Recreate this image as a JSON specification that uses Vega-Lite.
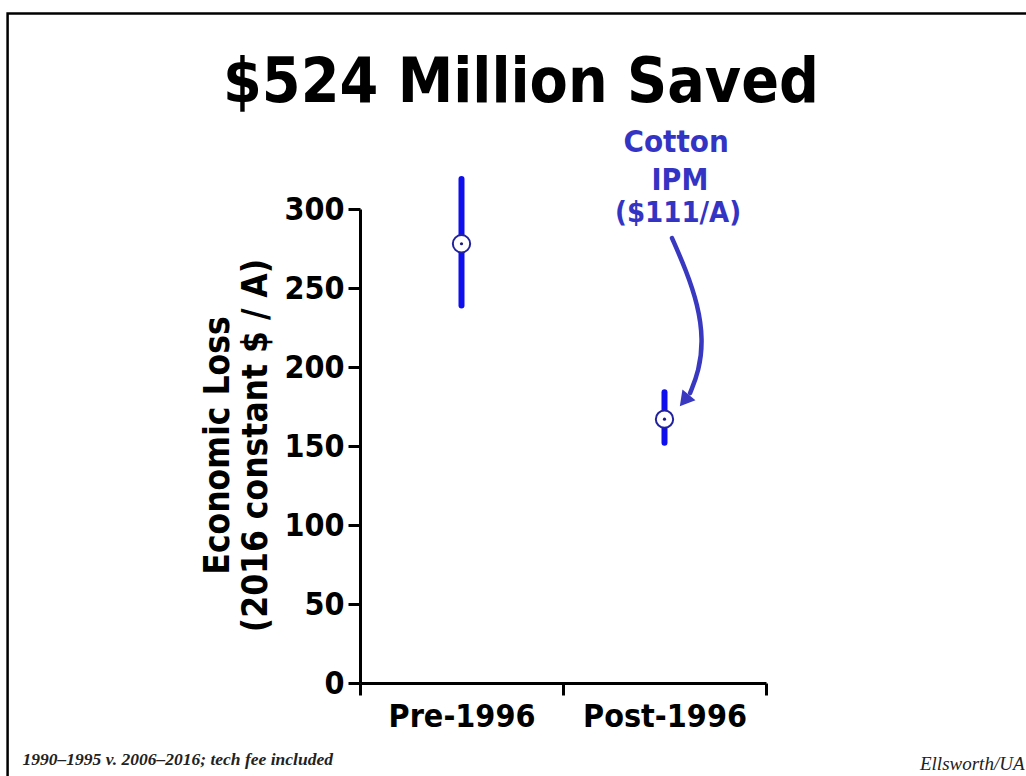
{
  "$schema": "https://vega.github.io/schema/vega-lite/v6.json",
  "width": 406,
  "height": 474,
  "autosize": "none",
  "padding": {"left": 360, "top": 209, "right": 260, "bottom": 93},
  "background": "white",
  "title": {
    "text": "$524 Million Saved",
    "font": "DejaVu Sans Condensed",
    "fontWeight": "bold",
    "fontSize": 62,
    "color": "black",
    "anchor": "middle",
    "frame": "group",
    "dx": -42,
    "baseline": "alphabetic",
    "offset": -152
  },
  "config": {
    "view": {"stroke": null},
    "font": "DejaVu Sans Condensed"
  },
  "layer": [
    {
      "data": {
        "values": [
          {"period": "Pre-1996", "mean": 278, "low": 239, "high": 319},
          {"period": "Post-1996", "mean": 167, "low": 152, "high": 184}
        ]
      },
      "encoding": {
        "x": {
          "field": "period",
          "type": "nominal",
          "sort": ["Pre-1996", "Post-1996"],
          "scale": {"type": "band", "paddingInner": 0, "paddingOuter": 0},
          "axis": {
            "tickBand": "extent",
            "labelAngle": 0,
            "labelFont": "DejaVu Sans Condensed",
            "labelFontSize": 32,
            "labelFontWeight": "bold",
            "labelColor": "black",
            "labelPadding": 6,
            "domainColor": "black",
            "domainWidth": 3,
            "tickColor": "black",
            "tickWidth": 3,
            "tickSize": 12,
            "title": "1990–1995 v. 2006–2016; tech fee included",
            "titleFont": "Liberation Serif",
            "titleFontStyle": "italic",
            "titleFontWeight": "bold",
            "titleFontSize": 17.5,
            "titleColor": "#222222",
            "titleAlign": "left",
            "titleBaseline": "alphabetic",
            "titleX": -338,
            "titleY": 81
          }
        }
      },
      "layer": [
        {
          "mark": {"type": "rule", "color": "#0f0fee", "strokeWidth": 6, "strokeCap": "round"},
          "encoding": {
            "y": {
              "field": "low",
              "type": "quantitative",
              "scale": {"domain": [0, 300], "nice": false, "zero": false},
              "axis": {
                "values": [0, 50, 100, 150, 200, 250, 300],
                "grid": false,
                "labelFont": "DejaVu Sans Condensed",
                "labelFontSize": 32,
                "labelFontWeight": "bold",
                "labelColor": "black",
                "labelPadding": 4,
                "domainColor": "black",
                "domainWidth": 3,
                "tickColor": "black",
                "tickWidth": 3,
                "tickSize": 12,
                "title": ["Economic Loss", "(2016 constant $ / A)"],
                "titleFont": "DejaVu Sans Condensed",
                "titleFontSize": 35,
                "titleFontWeight": "bold",
                "titleColor": "black",
                "titleLineHeight": 38,
                "titleAngle": -90,
                "titleAlign": "center",
                "titleBaseline": "middle",
                "titleX": -143,
                "titleY": 236
              }
            },
            "y2": {"field": "high"}
          }
        },
        {
          "mark": {"type": "point", "shape": "circle", "filled": true, "fill": "white", "stroke": "#22229e", "strokeWidth": 2, "size": 300, "opacity": 1},
          "encoding": {
            "y": {"field": "mean", "type": "quantitative", "scale": {"domain": [0, 300], "nice": false, "zero": false}}
          }
        },
        {
          "mark": {"type": "point", "shape": "circle", "filled": true, "color": "#1a1a80", "size": 10, "opacity": 1},
          "encoding": {
            "y": {"field": "mean", "type": "quantitative", "scale": {"domain": [0, 300], "nice": false, "zero": false}}
          }
        }
      ]
    },
    {
      "encoding": {
        "x": {
          "type": "quantitative",
          "scale": {"domain": [0, 2], "nice": false, "zero": false},
          "axis": {
            "orient": "top",
            "domain": false,
            "ticks": false,
            "labels": false,
            "grid": false,
            "title": "Ellsworth/UA",
            "titleFont": "Liberation Serif",
            "titleFontStyle": "italic",
            "titleFontWeight": "normal",
            "titleFontSize": 19,
            "titleColor": "#222222",
            "titleAlign": "right",
            "titleBaseline": "alphabetic",
            "titleX": 664,
            "titleY": 560
          }
        }
      },
      "layer": [
        {
          "data": {"values": [{"frame": "slide"}]},
          "mark": {"type": "rect", "filled": false, "fill": null, "stroke": "black", "strokeWidth": 2.5},
          "encoding": {
            "x": {"datum": -1.736, "type": "quantitative"},
            "x2": {"datum": 3.3},
            "y": {"datum": 423.7, "type": "quantitative", "scale": {"domain": [0, 300], "nice": false, "zero": false}, "axis": null},
            "y2": {"datum": -61.4}
          }
        },
        {
          "data": {
            "values": [
              {"label": "Cotton", "u": 1.557, "v": 336, "kind": "big"},
              {"label": "IPM", "u": 1.576, "v": 312, "kind": "mid"},
              {"label": "($111/A)", "u": 1.567, "v": 292, "kind": "small"}
            ]
          },
          "mark": {"type": "text", "font": "DejaVu Sans Condensed", "fontWeight": "bold", "color": "#3434c4", "baseline": "alphabetic", "align": "center"},
          "encoding": {
            "x": {"field": "u", "type": "quantitative"},
            "y": {"field": "v", "type": "quantitative", "scale": {"domain": [0, 300], "nice": false, "zero": false}, "axis": null},
            "text": {"field": "label"},
            "size": {"field": "kind", "type": "nominal", "scale": {"domain": ["big", "mid", "small"], "range": [31, 29, 20]}, "legend": null}
          }
        },
        {
          "data": {
            "values": [
              {"order": 1, "u": 1.537, "v": 281.6},
              {"order": 2, "u": 1.606, "v": 261.4},
              {"order": 3, "u": 1.665, "v": 239.2},
              {"order": 4, "u": 1.690, "v": 217.1},
              {"order": 5, "u": 1.670, "v": 197.5},
              {"order": 6, "u": 1.626, "v": 183.5}
            ]
          },
          "mark": {"type": "line", "interpolate": "basis", "color": "#3838c0", "strokeWidth": 4.5, "strokeCap": "round"},
          "encoding": {
            "x": {"field": "u", "type": "quantitative"},
            "y": {"field": "v", "type": "quantitative", "scale": {"domain": [0, 300], "nice": false, "zero": false}, "axis": null},
            "order": {"field": "order"}
          }
        },
        {
          "data": {"values": [{"u": 1.598, "v": 178.8}]},
          "mark": {"type": "point", "shape": "triangle-down", "filled": true, "color": "#3838c0", "size": 280, "angle": 39, "opacity": 1},
          "encoding": {
            "x": {"field": "u", "type": "quantitative"},
            "y": {"field": "v", "type": "quantitative", "scale": {"domain": [0, 300], "nice": false, "zero": false}, "axis": null}
          }
        }
      ]
    }
  ],
  "resolve": {
    "scale": {"x": "independent"},
    "axis": {"x": "independent", "y": "independent"}
  }
}
